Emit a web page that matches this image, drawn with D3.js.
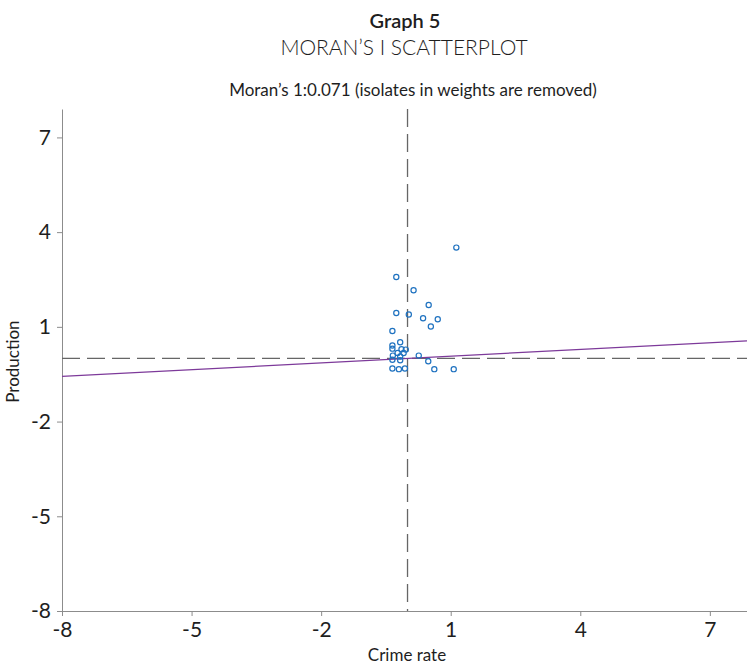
<!DOCTYPE html>
<html>
  <head>
    <meta charset="utf-8">
    <script src="https://cdn.jsdelivr.net/npm/d3@7"></script>
    <style>
      body { margin: 0; background: #fff; font-family: Lato, "Open Sans", sans-serif; }
      text { fill: #1e1e1e; }
      .axis path, .axis line { stroke: #8c8c8c; }
      .axis text { font-size: 21px; fill: #1e1e1e; font-family: Lato, sans-serif; font-weight: 400; }
    </style>
  </head>
  <body>
    <svg width="747" height="665"></svg>
    <script>

      // Standardised crime rate (x) and its spatial lag, production (y)
      var crimeRate = [1.13, -0.26, 0.14, 0.49, -0.26, 0.03, 0.36, 0.70, 0.54, -0.35,
                       -0.17, -0.35, -0.35, -0.14, -0.04, -0.23, -0.09, -0.34, -0.17, 0.26,
                       -0.35, -0.17, 0.48, -0.35, -0.20, -0.06, 0.62, 1.07];
      var production = [3.51, 2.58, 2.16, 1.69, 1.44, 1.39, 1.27, 1.24, 1.01, 0.87,
                        0.51, 0.41, 0.31, 0.29, 0.28, 0.17, 0.17, 0.09, 0.06, 0.09,
                        -0.04, -0.06, -0.09, -0.32, -0.34, -0.32, -0.34, -0.34];
      var tickValues = [-8, -5, -2, 1, 4, 7];
      var moransI = 0.071;

      var svg = d3.select("svg");

      var x = d3.scaleLinear().domain([-8, 7.86]).range([62, 747]);
      var y = d3.scaleLinear().domain([-8, 7.9]).range([611, 109]);

      // plain hyphen for negatives, like the original
      var fmt = function(d) { return String(d); };

      // Titles
      svg.append("text").attr("x", 405).attr("y", 28).attr("text-anchor", "middle")
        .style("font-size", "20px").style("font-weight", "600").text("Graph 5");
      svg.append("text").attr("x", 404).attr("y", 55).attr("text-anchor", "middle")
        .style("font-size", "21px").style("font-weight", "300").text("MORAN’S I SCATTERPLOT");
      svg.append("text").attr("x", 413).attr("y", 96).attr("text-anchor", "middle")
        .style("font-size", "17px")
        .text("Moran’s 1:" + moransI.toFixed(3) + " (isolates in weights are removed)");

      // Axes
      svg.append("g").attr("class", "axis")
        .attr("transform", "translate(0,611)")
        .call(d3.axisBottom(x).tickValues(tickValues).tickFormat(fmt).tickSize(5).tickSizeOuter(0).tickPadding(6));
      svg.append("g").attr("class", "axis")
        .attr("transform", "translate(62,0)")
        .call(d3.axisLeft(y).tickValues(tickValues).tickFormat(fmt).tickSize(5).tickSizeOuter(0).tickPadding(6));

      svg.append("text").attr("x", 407).attr("y", 661).attr("text-anchor", "middle")
        .style("font-size", "17px").text("Crime rate");
      svg.append("text").attr("transform", "translate(19," + y(-0.1) + ") rotate(-90)")
        .attr("text-anchor", "middle").style("font-size", "17px")
        .text("Production");

      // Mean lines
      svg.append("line")
        .attr("x1", x(0)).attr("x2", x(0)).attr("y1", y(7.9)).attr("y2", y(-8))
        .attr("stroke", "#666").attr("stroke-width", 1.3).attr("stroke-dasharray", "18,7");
      svg.append("line")
        .attr("x1", x(-8)).attr("x2", x(7.86)).attr("y1", y(0)).attr("y2", y(0))
        .attr("stroke", "#666").attr("stroke-width", 1.3).attr("stroke-dasharray", "18,7");

      // Regression line, slope = Moran's I
      svg.append("line")
        .attr("x1", x(-8)).attr("x2", x(7.86))
        .attr("y1", y(-8 * moransI)).attr("y2", y(7.86 * moransI))
        .attr("stroke", "#7d3a9a").attr("stroke-width", 1.3);

      // Points
      svg.selectAll(".pt")
        .data(crimeRate)
        .enter()
        .append("circle")
        .attr("class", "pt")
        .attr("cx", function(d) { return x(d); })
        .attr("cy", function(d, i) { return y(production[i]); })
        .attr("r", 2.6)
        .attr("fill", "none")
        .attr("stroke", "#1f72c0")
        .attr("stroke-width", 1.2);

    </script>
  </body>
</html>
